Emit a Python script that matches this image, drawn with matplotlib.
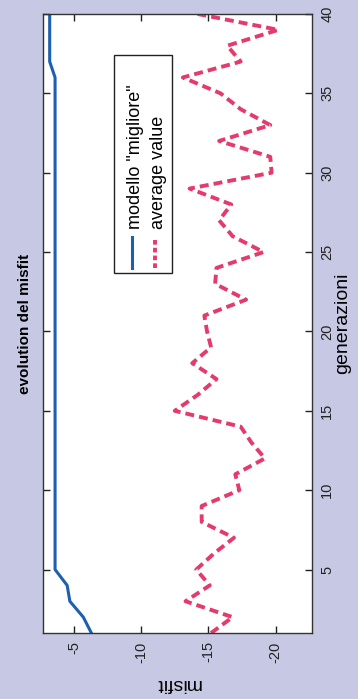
import matplotlib
matplotlib.use("Agg")
import matplotlib.pyplot as plt
from matplotlib.patches import Rectangle

plt.rcParams['font.family'] = ['Liberation Sans', 'DejaVu Sans']
plt.rcParams['axes.unicode_minus'] = False

# generations (x of the original plot, drawn vertically here)
generazioni = list(range(1, 41))

# misfit of the best model
migliore = [-6.3, -5.7, -4.7, -4.5,
            -3.6, -3.6, -3.6, -3.6, -3.6, -3.6, -3.6, -3.6,
            -3.6, -3.6, -3.6, -3.6, -3.6, -3.6, -3.6, -3.6,
            -3.6, -3.6, -3.6, -3.6, -3.6, -3.6, -3.6, -3.6,
            -3.6, -3.6, -3.6, -3.6, -3.6, -3.6, -3.6, -3.6,
            -3.2, -3.2, -3.2, -3.2]

# average misfit of the population
media = [-15.2, -16.8, -13.3, -15.1, -14.1, -15.4, -16.9, -14.5, -14.5, -17.3,
         -17.0, -19.2, -18.2, -17.4, -12.5, -14.2, -15.6, -13.8, -15.2, -14.9,
         -14.7, -17.8, -15.5, -15.6, -19.1, -16.8, -15.8, -16.7, -13.6, -19.7,
         -19.6, -15.8, -19.6, -17.4, -15.9, -13.1, -17.4, -16.4, -20.2, -14.2]

misfit_ticks = [-5, -10, -15, -20]
gen_ticks = [5, 10, 15, 20, 25, 30, 35, 40]

blu = "#1d5fb0"
rosso = "#e43a6c"

fig = plt.figure(figsize=(3.58, 6.99), dpi=100)
fig.patch.set_facecolor("#c7c9e4")
ax = fig.add_axes([0.120, 0.0944, 0.7514, 0.8856])
ax.set_facecolor("white")

# page is rotated: misfit runs horizontally, generations vertically
ax.plot(migliore, generazioni, color=blu, lw=2.2, solid_joinstyle="round")
ax.plot(media, generazioni, color=rosso, lw=2.8, dashes=(2.3, 1.3))

ax.set_xlim(-2.7, -22.7)
ax.set_ylim(1, 40)
ax.set_xticks(misfit_ticks)
ax.set_xticklabels([str(v) for v in misfit_ticks])
ax.set_yticks(gen_ticks)
ax.set_yticklabels([str(v) for v in gen_ticks])

ax.tick_params(direction="in", length=5, width=1, top=True, bottom=True,
               left=True, right=True, labelleft=False, labelright=True,
               labeltop=False, labelbottom=True, labelsize=10.5, colors="#222222")
ax.tick_params(axis="x", labelrotation=90, pad=6)
ax.tick_params(axis="y", labelrotation=90, pad=6)
for lab in ax.get_yticklabels():
    lab.set_va("center")

for s in ax.spines.values():
    s.set_color("#333333")
    s.set_linewidth(1.0)

ax.set_xlabel("misfit", rotation=180, fontsize=14, va="center", ha="center")
ax.xaxis.set_label_coords(0.5, -0.081)
ax.yaxis.set_label_position("right")
ax.set_ylabel("generazioni", rotation=90, fontsize=14, va="center", ha="center")
ax.yaxis.set_label_coords(1.115, 0.5)

ax.text(-0.067, 0.5, "evolution del misfit", rotation=90, transform=ax.transAxes,
        ha="center", va="center", fontsize=11, fontweight="bold")

# legend, rotated like the rest of the page
ax.add_patch(Rectangle((0.264, 0.5816), 0.216, 0.3524, transform=ax.transAxes,
                       facecolor="white", edgecolor="#222222", lw=1.0, zorder=5))
ax.plot([0.331, 0.331], [0.590, 0.640], transform=ax.transAxes, color=blu,
        lw=2.2, zorder=6)
ax.plot([0.416, 0.416], [0.590, 0.640], transform=ax.transAxes, color=rosso,
        lw=2.8, dashes=(1.2, 0.8), zorder=6)
ax.text(0.345, 0.652, 'modello "migliore"', rotation=90, transform=ax.transAxes,
        ha="center", va="bottom", fontsize=13, zorder=6)
ax.text(0.430, 0.652, "average value", rotation=90, transform=ax.transAxes,
        ha="center", va="bottom", fontsize=13, zorder=6)

plt.savefig("out.png", dpi=100, facecolor=fig.get_facecolor())
